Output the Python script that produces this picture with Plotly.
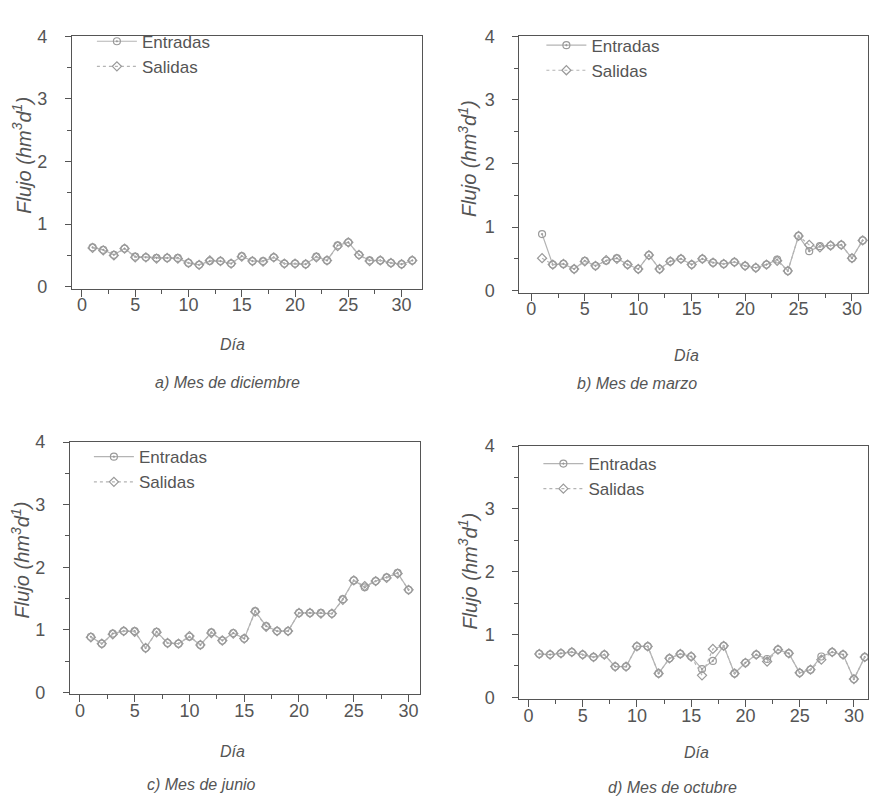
import plotly.graph_objects as go

W, H = 869, 804

# ---------------- data ----------------
dias_dic = list(range(1, 32))
dic_entradas = [0.63, 0.59, 0.51, 0.61, 0.48, 0.47, 0.46, 0.46, 0.46, 0.38, 0.35, 0.41, 0.41, 0.37, 0.49, 0.41,
                0.41, 0.47, 0.37, 0.37, 0.36, 0.48, 0.42, 0.66, 0.71, 0.51, 0.42, 0.42, 0.38, 0.36, 0.42]
dic_salidas = [0.62, 0.58, 0.50, 0.61, 0.47, 0.47, 0.45, 0.46, 0.45, 0.38, 0.35, 0.42, 0.41, 0.37, 0.48, 0.41,
               0.40, 0.47, 0.37, 0.37, 0.36, 0.47, 0.42, 0.65, 0.71, 0.51, 0.41, 0.42, 0.38, 0.36, 0.42]

dias_mar = list(range(1, 32))
mar_entradas = [0.89, 0.41, 0.42, 0.34, 0.47, 0.39, 0.47, 0.51, 0.41, 0.34, 0.56, 0.34, 0.46, 0.50, 0.41, 0.50,
                0.44, 0.42, 0.45, 0.39, 0.36, 0.41, 0.49, 0.31, 0.86, 0.62, 0.70, 0.71, 0.72, 0.51, 0.79]
mar_salidas = [0.51, 0.41, 0.42, 0.34, 0.46, 0.39, 0.48, 0.50, 0.41, 0.34, 0.56, 0.34, 0.46, 0.50, 0.41, 0.50,
               0.44, 0.42, 0.45, 0.39, 0.36, 0.41, 0.47, 0.31, 0.86, 0.72, 0.68, 0.71, 0.72, 0.51, 0.79]

dias_jun = list(range(1, 31))
jun_entradas = [0.89, 0.78, 0.94, 0.98, 0.98, 0.71, 0.97, 0.79, 0.78, 0.89, 0.76, 0.96, 0.83, 0.95, 0.86,
                1.30, 1.06, 0.98, 0.98, 1.27, 1.27, 1.27, 1.26, 1.49, 1.79, 1.68, 1.78, 1.84, 1.91, 1.64]
jun_salidas = [0.88, 0.78, 0.93, 0.98, 0.97, 0.71, 0.96, 0.79, 0.78, 0.90, 0.76, 0.95, 0.83, 0.94, 0.86,
               1.29, 1.05, 0.98, 0.98, 1.27, 1.27, 1.26, 1.26, 1.48, 1.79, 1.70, 1.78, 1.83, 1.90, 1.64]

dias_oct = list(range(1, 32))
oct_entradas = [0.69, 0.68, 0.70, 0.72, 0.68, 0.64, 0.68, 0.49, 0.49, 0.81, 0.81, 0.38, 0.62, 0.69, 0.65, 0.45,
                0.58, 0.82, 0.38, 0.55, 0.68, 0.61, 0.76, 0.70, 0.39, 0.44, 0.65, 0.72, 0.68, 0.29, 0.64]
oct_salidas = [0.69, 0.68, 0.70, 0.72, 0.68, 0.64, 0.68, 0.49, 0.49, 0.81, 0.81, 0.38, 0.62, 0.69, 0.65, 0.35,
               0.77, 0.82, 0.38, 0.55, 0.68, 0.57, 0.76, 0.70, 0.39, 0.44, 0.60, 0.72, 0.68, 0.29, 0.64]

series_names = ["Entradas", "Salidas"]
captions = ["a) Mes de diciembre", "b) Mes de marzo", "c) Mes de junio", "d) Mes de octubre"]
y_title = "Flujo (hm<sup>3</sup>d<sup>1</sup>)"
x_title = "Día"

panels = [
    (dias_dic, dic_entradas, dic_salidas),
    (dias_mar, mar_entradas, mar_salidas),
    (dias_jun, jun_entradas, jun_salidas),
    (dias_oct, oct_entradas, oct_salidas),
]

# ---------------- layout geometry (pixels) ----------------
boxes = [
    (72, 422, 27, 285, [-0.94, 31.87]),
    (520, 869, 27, 289, [-1.12, 31.5]),
    (70, 420, 442, 700, [-0.91, 31.0]),
    (520, 869, 446, 705, [-0.83, 31.3]),
]
legend_pos = [(92, 14), (542, 18), (89, 439), (539, 446)]
ytitle_pos = [(22, 148), (468, 152), (20, 562), (468, 574)]
xtitle_pos = [(233, 342), (687, 353), (233, 758), (697, 760)]
caption_pos = [(228, 381), (638, 382), (202, 792), (673, 795)]

FONT = "Liberation Sans, Arial, sans-serif"
AXIS_COL = "#555555"
TEXT_COL = "#555555"
LINE_COL = "#b4b4b4"
MARK_COL = "#9a9a9a"

fig = go.Figure()
layout = dict(
    width=W, height=H,
    margin=dict(l=0, r=0, t=0, b=0),
    paper_bgcolor="white", plot_bgcolor="white",
    font=dict(family=FONT, color=TEXT_COL, size=17),
    annotations=[],
)

for i, ((dias, ent, sal), (l, r, t, b, xr)) in enumerate(zip(panels, boxes)):
    k = "" if i == 0 else str(i + 1)
    leg = "legend" if i == 0 else f"legend{i + 1}"
    fig.add_trace(go.Scatter(
        x=dias, y=ent, name=series_names[0], mode="lines+markers",
        xaxis="x" + k, yaxis="y" + k, legend=leg,
        line=dict(color=LINE_COL, width=1.2),
        marker=dict(symbol="circle-open-dot", size=7, color=MARK_COL, line=dict(width=1.2, color=MARK_COL)),
    ))
    fig.add_trace(go.Scatter(
        x=dias, y=sal, name=series_names[1], mode="lines+markers",
        xaxis="x" + k, yaxis="y" + k, legend=leg,
        line=dict(color=LINE_COL, width=1.2, dash="dot"),
        marker=dict(symbol="diamond-open", size=7, color=MARK_COL, line=dict(width=1.2, color=MARK_COL)),
    ))
    layout["xaxis" + k] = dict(
        domain=[l / W, r / W], anchor="y" + k, range=xr,
        tickmode="linear", tick0=0, dtick=5, ticks="outside", ticklen=7, tickcolor=AXIS_COL,
        minor=dict(dtick=2.5, tick0=0, ticks="outside", ticklen=4, tickcolor=AXIS_COL),
        showline=True, linecolor=AXIS_COL, linewidth=1, mirror=True,
        showgrid=False, zeroline=False, ticklabelstandoff=-7,
        tickfont=dict(size=18, color="#555555"),
    )
    layout["yaxis" + k] = dict(
        domain=[1 - b / H, 1 - t / H], anchor="x" + k, range=[-0.03, 4.0],
        tickmode="linear", tick0=0, dtick=1, ticks="outside", ticklen=6, tickcolor=AXIS_COL,
        minor=dict(dtick=0.5, tick0=0, ticks="outside", ticklen=4, tickcolor=AXIS_COL),
        showline=True, linecolor=AXIS_COL, linewidth=1, mirror=True,
        showgrid=False, zeroline=False, ticklabelstandoff=14,
        tickfont=dict(size=18, color="#555555"),
    )
    lx, ly = legend_pos[i]
    layout[leg] = dict(
        x=lx / W, y=1 - ly / H, xanchor="left", yanchor="top",
        bgcolor="rgba(0,0,0,0)", font=dict(size=17, color="#555555"),
        tracegroupgap=0, itemwidth=40,
    )
    tx, ty = ytitle_pos[i]
    layout["annotations"].append(dict(
        text="<i>" + y_title + "</i>", x=tx / W, y=1 - ty / H, xref="paper", yref="paper",
        showarrow=False, textangle=-90, font=dict(size=20, color="#555555"),
        xanchor="center", yanchor="middle",
    ))
    dx, dy = xtitle_pos[i]
    layout["annotations"].append(dict(
        text="<i>" + x_title + "</i>", x=dx / W, y=1 - dy / H, xref="paper", yref="paper",
        showarrow=False, font=dict(size=16, color="#555555"),
        xanchor="center", yanchor="middle",
    ))
    cx, cy = caption_pos[i]
    layout["annotations"].append(dict(
        text="<i>" + captions[i] + "</i>", x=cx / W, y=1 - cy / H, xref="paper", yref="paper",
        showarrow=False, font=dict(size=16, color="#555555"),
        xanchor="center", yanchor="middle",
    ))

fig.update_layout(**layout)
fig.write_html("out.html")
